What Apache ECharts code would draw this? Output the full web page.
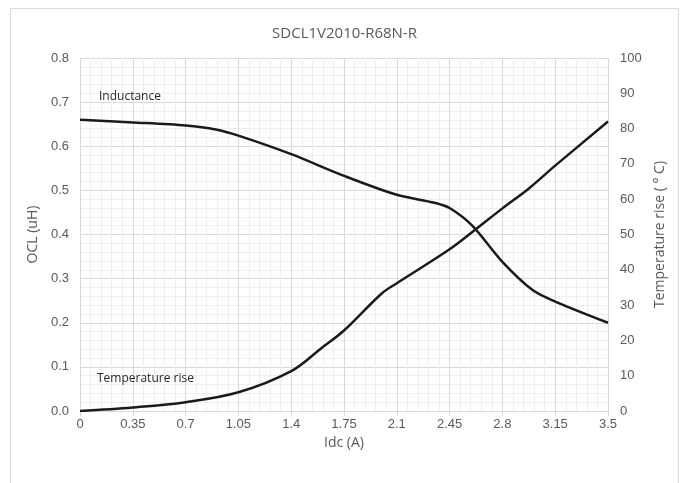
<!DOCTYPE html>
<html>
<head>
<meta charset="utf-8">
<script src="https://cdn.jsdelivr.net/npm/echarts@6/dist/echarts.min.js"></script>
<style>html,body{margin:0;padding:0;background:#fff}#c{width:689px;height:483px}</style>
</head>
<body>
<div id="c"></div>
<script>
// Idc (A) sample points
const indX = [0, 0.35, 0.7, 0.9, 1.05, 1.4, 1.75, 2.1, 2.35, 2.45, 2.6, 2.8, 3.0, 3.15, 3.5];
const indY = [0.660, 0.654, 0.647, 0.638, 0.624, 0.582, 0.533, 0.490, 0.472, 0.460, 0.420, 0.338, 0.274, 0.248, 0.200];
const tempX = [0, 0.35, 0.7, 1.05, 1.4, 1.6, 1.75, 2.0, 2.1, 2.45, 2.63, 2.8, 2.98, 3.15, 3.5];
const tempY = [0, 1.0, 2.5, 5.3, 11.3, 17.8, 22.8, 33.3, 36.2, 45.8, 51.7, 57.4, 63.2, 69.5, 82];
const xTicks = ['0','0.35','0.7','1.05','1.4','1.75','2.1','2.45','2.8','3.15','3.5'];

const tickFont = {color:'#595959', fontSize:13, fontFamily:'Liberation Sans Narrow, Liberation Sans, sans-serif'};
const nameFont = {color:'#595959', fontSize:14, fontFamily:'Open Sans, sans-serif'};

const chart = echarts.init(document.getElementById('c'), null, {renderer:'canvas'});
chart.setOption({
  animation:false,
  backgroundColor:'#fff',
  title:{text:'SDCL1V2010-R68N-R', left:'center', top:21,
    textStyle:{color:'#595959', fontSize:15, fontWeight:'normal', fontFamily:'Open Sans, sans-serif'}},
  grid:{left:80, right:81, top:58, bottom:72},
  graphic:[
    {type:'rect', shape:{x:10.5, y:8.5, width:668, height:490}, style:{fill:'none', stroke:'#d9d9d9', lineWidth:1}, silent:true},
    {type:'text', z:100, left:99, top:91, style:{text:'Inductance', fill:'#262626', fontSize:12, fontFamily:'Open Sans, sans-serif'}},
    {type:'text', z:100, left:97, top:373, style:{text:'Temperature rise', fill:'#262626', fontSize:12, fontFamily:'Open Sans, sans-serif'}}
  ],
  xAxis:{type:'value', min:0, max:3.5, interval:0.35,
    name:'Idc (A)', nameLocation:'middle', nameGap:25, nameTextStyle:nameFont,
    axisLine:{show:true, lineStyle:{color:'#d9d9d9'}},
    axisTick:{show:true, length:5, lineStyle:{color:'#d9d9d9'}},
    axisLabel:Object.assign({margin:7, formatter:(v,i)=>xTicks[Math.round(v/0.35)]}, tickFont),
    splitLine:{show:true, lineStyle:{color:'#d9d9d9'}},
    minorTick:{show:false, splitNumber:5},
    minorSplitLine:{show:true, lineStyle:{color:'#efefef'}}
  },
  yAxis:[
    {type:'value', min:0, max:0.8, interval:0.1, position:'left',
      name:'OCL (uH)', nameLocation:'middle', nameGap:37, nameTextStyle:nameFont,
      axisLine:{show:false}, axisTick:{show:false},
      axisLabel:Object.assign({margin:11, formatter:v=>v.toFixed(1)}, tickFont),
      splitLine:{show:true, lineStyle:{color:'#d9d9d9'}},
      minorTick:{show:false, splitNumber:5},
      minorSplitLine:{show:true, lineStyle:{color:'#efefef'}}
    },
    {type:'value', min:0, max:100, interval:10, position:'right',
      name:'Temperature rise ( ° C)', nameLocation:'middle', nameGap:36, nameRotate:90, nameTextStyle:nameFont,
      axisLine:{show:false}, axisTick:{show:false},
      axisLabel:Object.assign({margin:12}, tickFont),
      splitLine:{show:false}
    }
  ],
  series:[
    {type:'line', name:'Inductance', yAxisIndex:0, smooth:0.3, symbol:'none',
      lineStyle:{color:'#1a1a1a', width:2.5},
      data:indX.map((x,i)=>[x, indY[i]])},
    {type:'line', name:'Temperature rise', yAxisIndex:1, smooth:0.35, symbol:'none',
      lineStyle:{color:'#1a1a1a', width:2.5},
      data:tempX.map((x,i)=>[x, tempY[i]])}
  ]
});
</script>
</body>
</html>
